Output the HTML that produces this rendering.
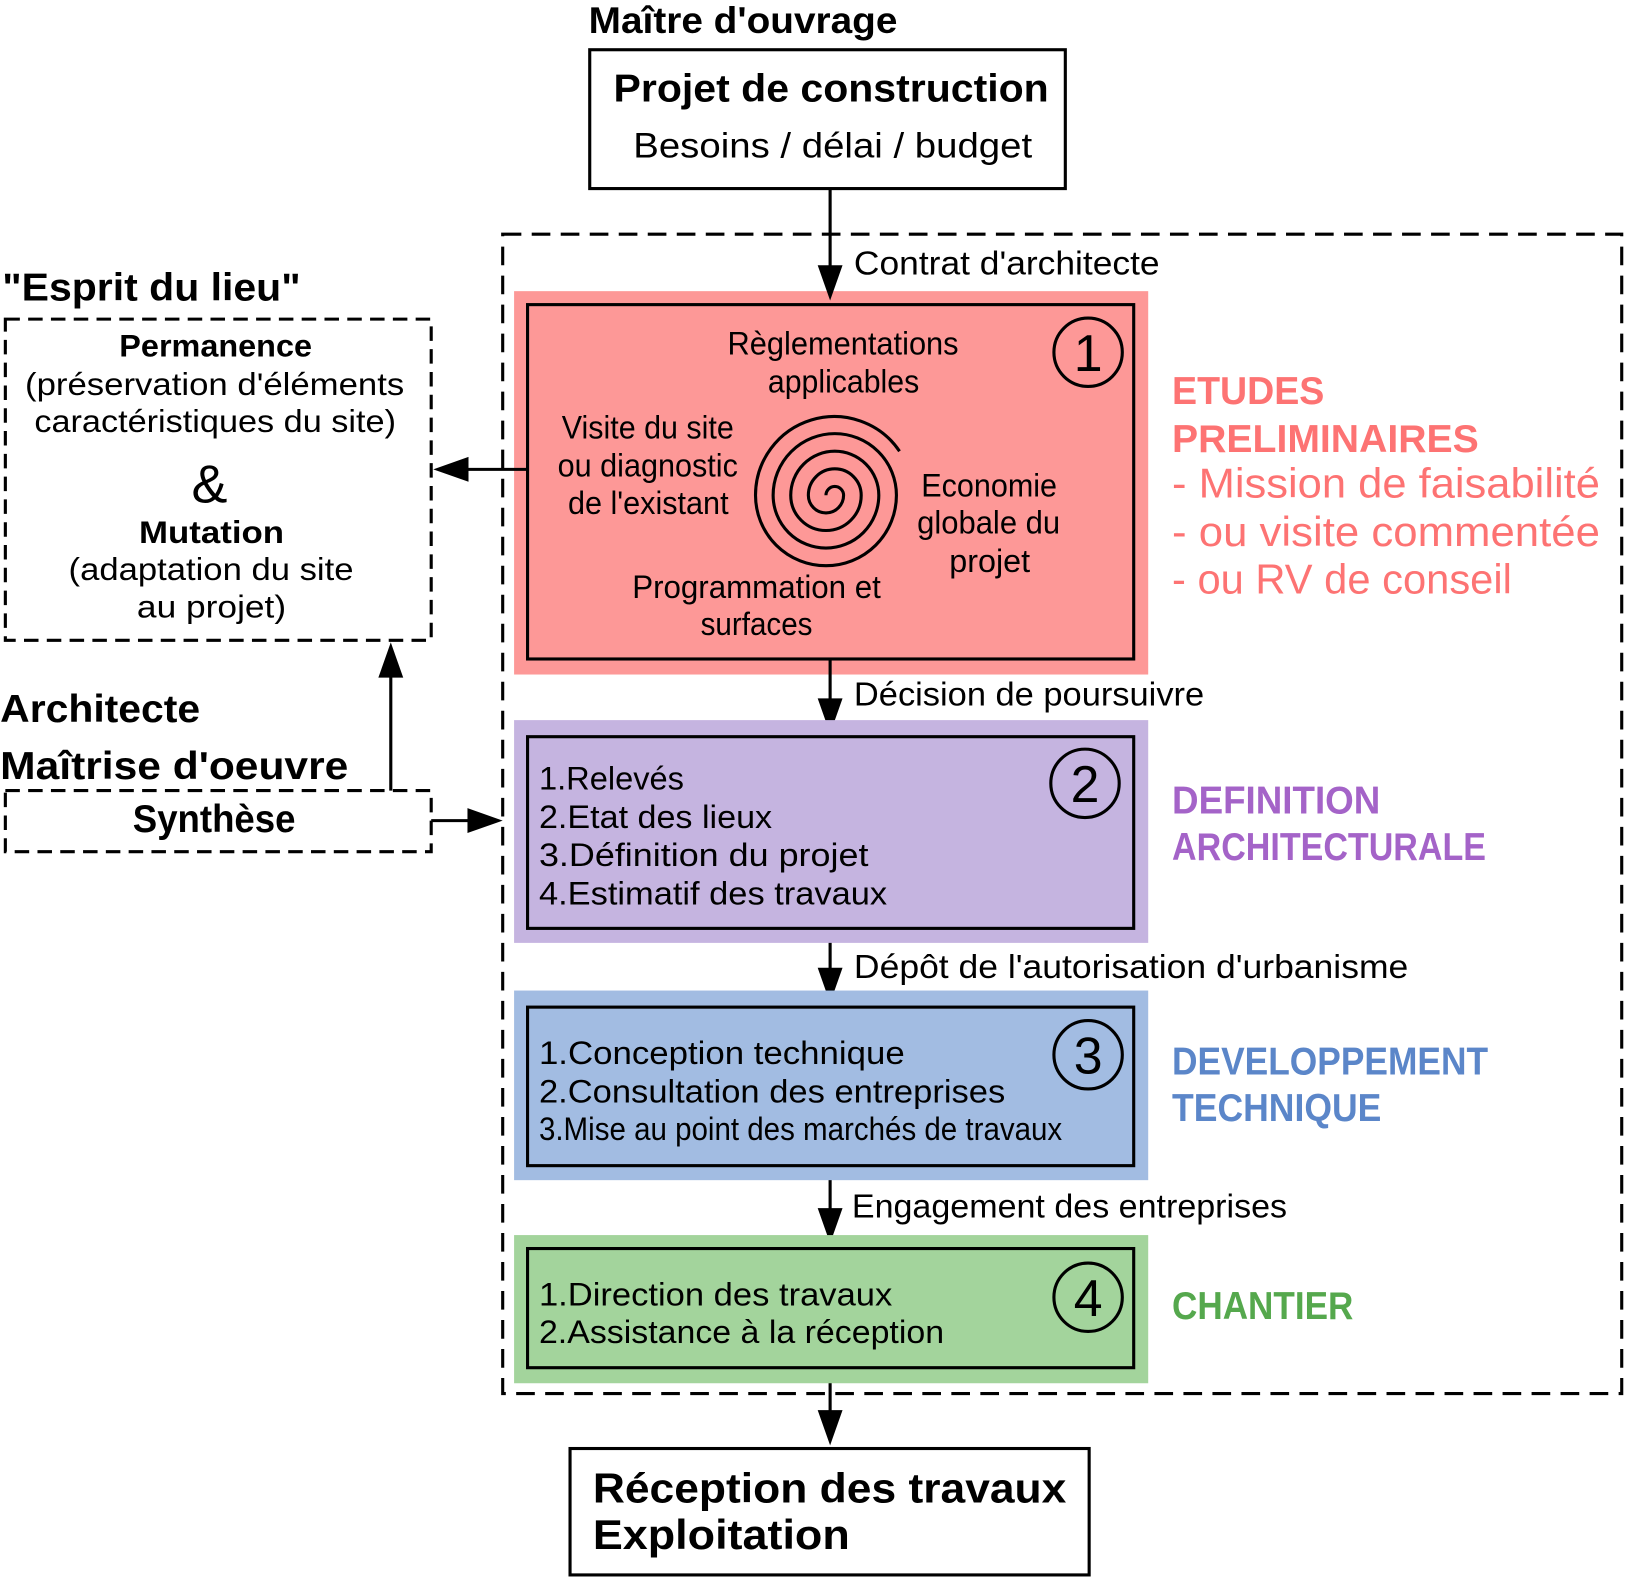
<!DOCTYPE html>
<html><head><meta charset="utf-8"><style>
html,body{margin:0;padding:0;background:#fff;}
svg{display:block;}
text{font-family:"Liberation Sans",sans-serif;}
</style></head><body>
<svg width="1625" height="1577" viewBox="0 0 1568 1522" xmlns="http://www.w3.org/2000/svg">
<g>
<!-- top -->
<text x="568" y="32" font-size="36" font-weight="bold" textLength="298" lengthAdjust="spacingAndGlyphs">Maître d'ouvrage</text>
<rect x="569" y="48" width="459" height="134" fill="#fff" stroke="#000" stroke-width="3"/>
<text x="592" y="98" font-size="38" font-weight="bold" textLength="420" lengthAdjust="spacingAndGlyphs">Projet de construction</text>
<text x="611" y="152" font-size="34" textLength="385" lengthAdjust="spacingAndGlyphs">Besoins / délai / budget</text>

<!-- big dashed -->
<rect x="485" y="226" width="1080" height="1119" fill="none" stroke="#000" stroke-width="3" stroke-dasharray="18 10"/>

<!-- stage 1 -->
<rect x="496" y="281" width="612" height="370" fill="#fd9897"/>
<rect x="509" y="294" width="585" height="342" fill="none" stroke="#000" stroke-width="3"/>
<circle cx="1050" cy="340" r="33" fill="none" stroke="#000" stroke-width="3"/>
<text x="1050" y="358" font-size="50" text-anchor="middle">1</text>
<g font-size="31">
<text x="702" y="342" textLength="223" lengthAdjust="spacingAndGlyphs">Règlementations</text>
<text x="741" y="379" textLength="146" lengthAdjust="spacingAndGlyphs">applicables</text>
<text x="542" y="423" textLength="166" lengthAdjust="spacingAndGlyphs">Visite du site</text>
<text x="538" y="460" textLength="174" lengthAdjust="spacingAndGlyphs">ou diagnostic</text>
<text x="548" y="496" textLength="155" lengthAdjust="spacingAndGlyphs">de l'existant</text>
<text x="889" y="479" textLength="131" lengthAdjust="spacingAndGlyphs">Economie</text>
<text x="885" y="515" textLength="138" lengthAdjust="spacingAndGlyphs">globale du</text>
<text x="916" y="552" textLength="78" lengthAdjust="spacingAndGlyphs">projet</text>
<text x="610" y="577" textLength="240" lengthAdjust="spacingAndGlyphs">Programmation et</text>
<text x="676" y="613" textLength="108" lengthAdjust="spacingAndGlyphs">surfaces</text>
</g>
<path d="M797 478 A8.5 8.5 0 0 1 814 478 A17 17 0 0 1 780 478 A25.5 25.5 0 0 1 831 478 A34 34 0 0 1 763 478 A42.5 42.5 0 0 1 848 478 A51 51 0 0 1 746 478 A59.5 59.5 0 0 1 865 478 A68 68 0 0 1 729 478 A76 76 0 0 1 868 435.5" fill="none" stroke="#000" stroke-width="3"/>

<g fill="#fd7373">
<text x="1131" y="390" font-size="38" font-weight="bold" textLength="147" lengthAdjust="spacingAndGlyphs">ETUDES</text>
<text x="1131" y="436" font-size="38" font-weight="bold" textLength="296" lengthAdjust="spacingAndGlyphs">PRELIMINAIRES</text>
<text x="1131" y="480" font-size="40" textLength="413" lengthAdjust="spacingAndGlyphs">- Mission de faisabilité</text>
<text x="1131" y="527" font-size="40" textLength="413" lengthAdjust="spacingAndGlyphs">- ou visite commentée</text>
<text x="1131" y="573" font-size="40" textLength="328" lengthAdjust="spacingAndGlyphs">- ou RV de conseil</text>
</g>

<!-- left side -->
<text x="2" y="290" font-size="38" font-weight="bold" textLength="288" lengthAdjust="spacingAndGlyphs">"Esprit du lieu"</text>
<rect x="5" y="308" width="411" height="310" fill="none" stroke="#000" stroke-width="3" stroke-dasharray="14 8"/>
<g font-size="30">
<text x="115" y="344" font-weight="bold" textLength="186" lengthAdjust="spacingAndGlyphs">Permanence</text>
<text x="24" y="381" textLength="366" lengthAdjust="spacingAndGlyphs">(préservation d'éléments</text>
<text x="33" y="417" textLength="349" lengthAdjust="spacingAndGlyphs">caractéristiques du site)</text>
<text x="202" y="485" font-size="52" text-anchor="middle">&amp;</text>
<text x="134" y="524" font-weight="bold" textLength="140" lengthAdjust="spacingAndGlyphs">Mutation</text>
<text x="66" y="560" textLength="275" lengthAdjust="spacingAndGlyphs">(adaptation du site</text>
<text x="132" y="596" textLength="144" lengthAdjust="spacingAndGlyphs">au projet)</text>
</g>
<text x="0" y="697" font-size="38" font-weight="bold" textLength="193" lengthAdjust="spacingAndGlyphs">Architecte</text>
<text x="0" y="752" font-size="38" font-weight="bold" textLength="336" lengthAdjust="spacingAndGlyphs">Maîtrise d'oeuvre</text>
<rect x="5" y="763" width="411" height="59" fill="none" stroke="#000" stroke-width="3" stroke-dasharray="14 8"/>
<text x="128" y="803" font-size="38" font-weight="bold" textLength="157" lengthAdjust="spacingAndGlyphs">Synthèse</text>

<!-- connectors -->
<g stroke="#000" stroke-width="3">
<line x1="801" y1="182" x2="801" y2="262"/>
<line x1="509" y1="453" x2="445" y2="453"/>
<line x1="377" y1="763" x2="377" y2="648"/>
<line x1="416" y1="792" x2="458" y2="792"/>
<line x1="801" y1="636" x2="801" y2="680"/>
<line x1="801" y1="896" x2="801" y2="940"/>
<line x1="801" y1="1125" x2="801" y2="1172"/>
<line x1="801" y1="1320" x2="801" y2="1367"/>
</g>
<g fill="#000">
<polygon points="789,256 813,256 801,290"/>
<polygon points="418,453 452,441 452,465"/>
<polygon points="377,620 365,654 389,654"/>
<polygon points="485,792 451,780 451,804"/>
<polygon points="789,674 813,674 801,708"/>
<polygon points="789,934 813,934 801,968"/>
<polygon points="789,1166 813,1166 801,1200"/>
<polygon points="789,1361 813,1361 801,1395"/>
</g>
<text x="824" y="265" font-size="32" textLength="295" lengthAdjust="spacingAndGlyphs">Contrat d'architecte</text>
<text x="824" y="681" font-size="32" textLength="338" lengthAdjust="spacingAndGlyphs">Décision de poursuivre</text>
<text x="824" y="944" font-size="32" textLength="535" lengthAdjust="spacingAndGlyphs">Dépôt de l'autorisation d'urbanisme</text>
<text x="822" y="1175" font-size="32" textLength="420" lengthAdjust="spacingAndGlyphs">Engagement des entreprises</text>

<!-- stage 2 -->
<rect x="496" y="695" width="612" height="215" fill="#c5b4e0"/>
<rect x="509" y="711" width="585" height="185" fill="none" stroke="#000" stroke-width="3"/>
<circle cx="1047" cy="756" r="33" fill="none" stroke="#000" stroke-width="3"/>
<text x="1047" y="774" font-size="50" text-anchor="middle">2</text>
<g font-size="31">
<text x="520" y="762" textLength="140" lengthAdjust="spacingAndGlyphs">1.Relevés</text>
<text x="520" y="799" textLength="225" lengthAdjust="spacingAndGlyphs">2.Etat des lieux</text>
<text x="520" y="836" textLength="318" lengthAdjust="spacingAndGlyphs">3.Définition du projet</text>
<text x="520" y="873" textLength="336" lengthAdjust="spacingAndGlyphs">4.Estimatif des travaux</text>
</g>
<g fill="#a463c8" font-size="38" font-weight="bold">
<text x="1131" y="785" textLength="201" lengthAdjust="spacingAndGlyphs">DEFINITION</text>
<text x="1131" y="830" textLength="303" lengthAdjust="spacingAndGlyphs">ARCHITECTURALE</text>
</g>

<!-- stage 3 -->
<rect x="496" y="956" width="612" height="183" fill="#a2bce2"/>
<rect x="509" y="972" width="585" height="153" fill="none" stroke="#000" stroke-width="3"/>
<circle cx="1050" cy="1018" r="33" fill="none" stroke="#000" stroke-width="3"/>
<text x="1050" y="1036" font-size="50" text-anchor="middle">3</text>
<g font-size="31">
<text x="520" y="1027" textLength="353" lengthAdjust="spacingAndGlyphs">1.Conception technique</text>
<text x="520" y="1064" textLength="450" lengthAdjust="spacingAndGlyphs">2.Consultation des entreprises</text>
<text x="520" y="1100" textLength="505" lengthAdjust="spacingAndGlyphs">3.Mise au point des marchés de travaux</text>
</g>
<g fill="#5b86c9" font-size="38" font-weight="bold">
<text x="1131" y="1037" textLength="305" lengthAdjust="spacingAndGlyphs">DEVELOPPEMENT</text>
<text x="1131" y="1082" textLength="202" lengthAdjust="spacingAndGlyphs">TECHNIQUE</text>
</g>

<!-- stage 4 -->
<rect x="496" y="1192" width="612" height="143" fill="#a3d49c"/>
<rect x="509" y="1205" width="585" height="115" fill="none" stroke="#000" stroke-width="3"/>
<circle cx="1050" cy="1252" r="33" fill="none" stroke="#000" stroke-width="3"/>
<text x="1050" y="1270" font-size="50" text-anchor="middle">4</text>
<g font-size="31">
<text x="520" y="1260" textLength="341" lengthAdjust="spacingAndGlyphs">1.Direction des travaux</text>
<text x="520" y="1296" textLength="391" lengthAdjust="spacingAndGlyphs">2.Assistance à la réception</text>
</g>
<text x="1131" y="1273" fill="#55a84d" font-size="38" font-weight="bold" textLength="175" lengthAdjust="spacingAndGlyphs">CHANTIER</text>

<!-- bottom -->
<rect x="550" y="1398" width="501" height="122" fill="#fff" stroke="#000" stroke-width="3"/>
<text x="572" y="1450" font-size="40" font-weight="bold" textLength="457" lengthAdjust="spacingAndGlyphs">Réception des travaux</text>
<text x="572" y="1495" font-size="40" font-weight="bold" textLength="248" lengthAdjust="spacingAndGlyphs">Exploitation</text>
</g>
</svg>
</body></html>
